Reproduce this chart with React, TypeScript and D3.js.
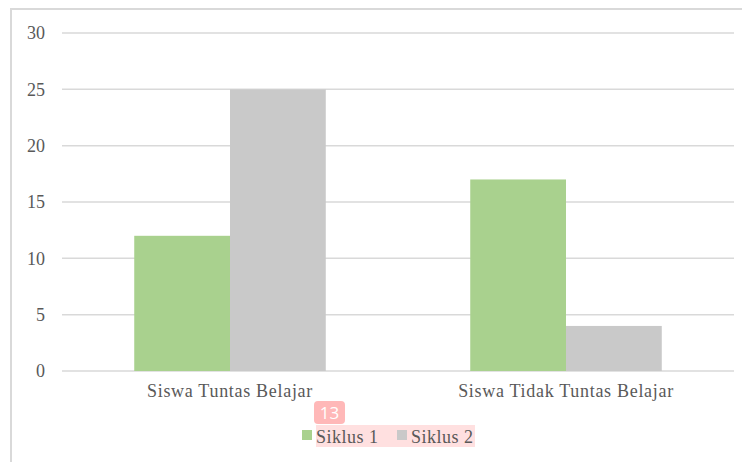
import React, { useEffect, useRef } from "react";
import * as d3 from "d3";

const categories = ["Siswa Tuntas Belajar", "Siswa Tidak Tuntas Belajar"];
const seriesNames = ["Siklus 1", "Siklus 2"];
const siklus1 = [12, 17];
const siklus2 = [25, 4];
const yTicks = [0, 5, 10, 15, 20, 25, 30];
const colors = ["#a9d18e", "#c9c9c9"];

const W = 742;
const H = 462;

export default function App() {
  const svgRef = useRef<SVGSVGElement>(null);

  useEffect(() => {
    const svg = d3.select(svgRef.current);
    svg.selectAll("*").remove();

    const margin = { left: 62, right: 8, top: 33, bottom: 91 };
    const font = "'Liberation Serif', 'Times New Roman', serif";

    // chart frame (runs off the page on the right and bottom)
    svg.append("rect")
      .attr("x", 11).attr("y", 9)
      .attr("width", W).attr("height", H)
      .attr("fill", "#fff")
      .attr("stroke", "#d9d9d9").attr("stroke-width", 2);

    const x0 = d3.scaleBand().domain(categories).range([margin.left, W - margin.right]).paddingInner(0.43).paddingOuter(0.215);
    const x1 = d3.scaleBand().domain(seriesNames).range([0, x0.bandwidth()]);
    const y = d3.scaleLinear().domain([0, 30]).range([H - margin.bottom, margin.top]);

    const grid = svg.append("g");
    yTicks.forEach(t => {
      grid.append("line")
        .attr("x1", margin.left).attr("x2", W - margin.right)
        .attr("y1", y(t)).attr("y2", y(t))
        .attr("stroke", "#d9d9d9").attr("stroke-width", 1.5);
      grid.append("text")
        .attr("x", 45).attr("y", y(t)).attr("dy", "0.35em")
        .attr("text-anchor", "end")
        .attr("font-family", font).attr("font-size", 18).attr("fill", "#595959")
        .text(t);
    });

    const data = [siklus1, siklus2];
    categories.forEach((c, ci) => {
      seriesNames.forEach((s, si) => {
        const v = data[si][ci];
        svg.append("rect")
          .attr("x", (x0(c) ?? 0) + (x1(s) ?? 0))
          .attr("y", y(v))
          .attr("width", x1.bandwidth())
          .attr("height", y(0) - y(v))
          .attr("fill", colors[si]);
      });
      svg.append("text")
        .attr("x", (x0(c) ?? 0) + x0.bandwidth() / 2)
        .attr("y", 397)
        .attr("text-anchor", "middle")
        .attr("font-family", font).attr("font-size", 18).attr("fill", "#595959")
        .attr("letter-spacing", 0.7)
        .text(c);
    });

    // highlight behind the legend text
    svg.append("rect")
      .attr("x", 316).attr("y", 425).attr("width", 159).attr("height", 22)
      .attr("fill", "#ffe0e0");

    const legend = svg.append("g");
    const legendX = [302, 397];
    seriesNames.forEach((s, i) => {
      legend.append("rect")
        .attr("x", legendX[i]).attr("y", 430).attr("width", 10).attr("height", 10)
        .attr("fill", colors[i]);
      legend.append("text")
        .attr("x", legendX[i] + 14).attr("y", 443)
        .attr("font-family", font).attr("font-size", 18).attr("fill", "#595959")
        .attr("letter-spacing", 0.5)
        .text(s);
    });

    // page number badge
    svg.append("rect")
      .attr("x", 314).attr("y", 401).attr("width", 31).attr("height", 23).attr("rx", 4)
      .attr("fill", "#ffb8b8");
    svg.append("text")
      .attr("x", 329.5).attr("y", 412.5).attr("dy", "0.36em")
      .attr("text-anchor", "middle")
      .attr("font-family", "'Open Sans', sans-serif").attr("font-size", 17).attr("fill", "#fff")
      .text("13");
  }, []);

  return (
    <svg ref={svgRef} width={W} height={H} style={{ position: "absolute", left: 0, top: 0 }} />
  );
}
